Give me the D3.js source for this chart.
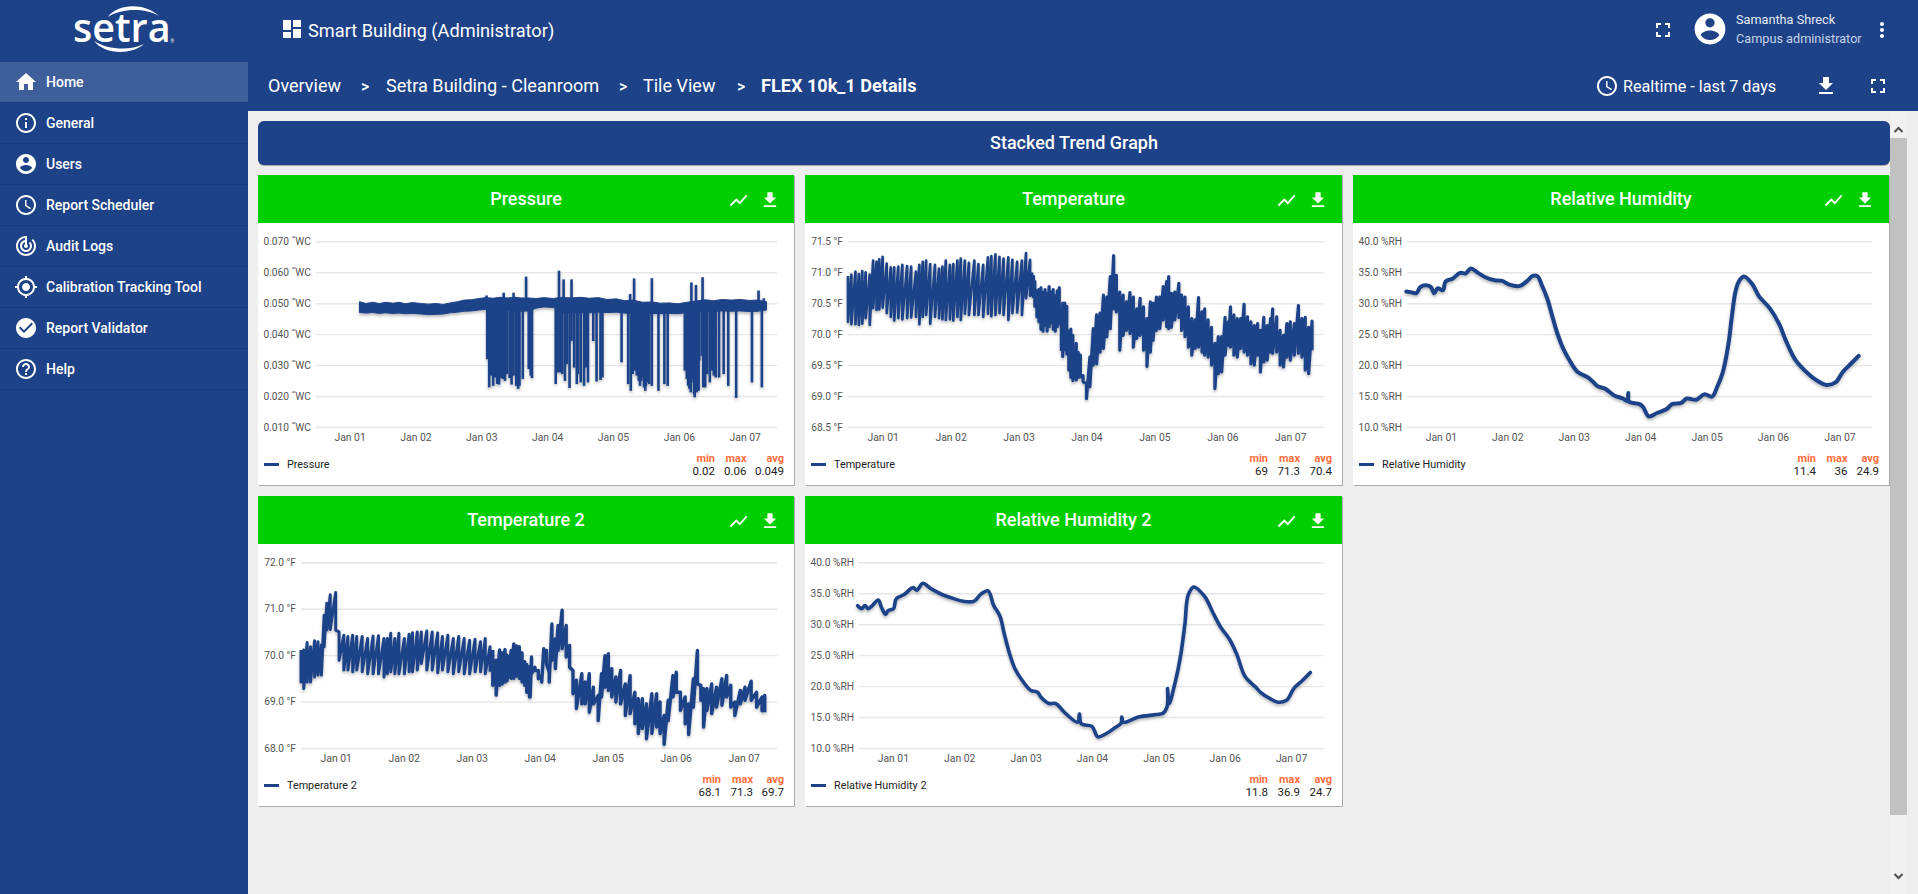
<![CDATA[<!DOCTYPE html>
<html><head><meta charset="utf-8">
<script src="https://cdn.jsdelivr.net/npm/d3@7/dist/d3.min.js"></script>
<style>
html,body{margin:0;padding:0;width:1918px;height:894px;overflow:hidden;background:#eee;font-family:Roboto,sans-serif}
svg{display:block}
text{font-family:Roboto,sans-serif}
.tick text{font-family:Roboto,sans-serif}
</style></head><body><svg id="page" width="1918" height="894"></svg>
<script>
// ---------- DATA (day-of-January, value) ----------
const dayTicks=[1,2,3,4,5,6,7];
const windowDays=[0.49,7.49];
const pressureTicks=[0.01,0.02,0.03,0.04,0.05,0.06,0.07];
const temperatureTicks=[68.5,69,69.5,70,70.5,71,71.5];
const temperature2Ticks=[68,69,70,71,72];
const humidityTicks=[10,15,20,25,30,35,40];

const pressureBandDays=[1.15,1.25,1.35,1.45,1.55,1.66,1.75,1.85,1.95,2.09,2.2,2.31,2.42,2.53,2.64,2.74,2.85,2.96,3.07,3.18,3.28,3.4,3.5,3.6,3.72,3.83,3.95,4.10,4.2,4.37,4.5,4.64,4.78,4.91,5.05,5.18,5.3,5.45,5.6,5.72,5.85,5.99,6.12,6.26,6.4,6.53,6.66,6.80,6.93,7.07,7.2,7.33];
const pressureBandHigh=[.0505,.0499,.0503,.0499,.0503,.0500,.0503,.0498,.0502,.0499,.0497,.0499,.0496,.0501,.0505,.0510,.0511,.0515,.0518,.0516,.0519,.0517,.0519,.0517,.0517,.0515,.0518,.0515,.0519,.0517,.0519,.0516,.0518,.0512,.0514,.0508,.0510,.0503,.0504,.0500,.0501,.0498,.0503,.0507,.0511,.0508,.0512,.0510,.0512,.0509,.0510,.0505];
const pressureBandLow=[.0470,.0468,.0470,.0467,.0469,.0467,.0468,.0466,.0467,.0465,.0463,.0464,.0465,.0469,.0471,.0474,.0475,.0478,.0480,.0478,.0480,.0478,.0476,.0474,.0475,.0484,.0488,.0486,.0470,.0468,.0470,.0469,.0471,.0470,.0471,.0468,.0467,.0466,.0467,.0466,.0467,.0466,.0470,.0473,.0475,.0474,.0475,.0474,.0475,.0473,.0474,.0478];
const pressureDipDays=[3.09,3.12,3.15,3.18,3.21,3.24,3.27,3.30,3.33,3.36,3.39,3.43,3.46,3.49,3.53,3.56,3.58,3.63,3.72,3.75,3.77,4.13,4.16,4.20,4.23,4.27,4.30,4.34,4.37,4.41,4.45,4.47,4.51,4.56,4.59,4.62,4.70,4.75,4.81,4.84,5.13,5.23,5.27,5.30,5.33,5.36,5.39,5.41,5.43,5.45,5.47,5.49,5.50,5.52,5.55,5.59,5.69,5.78,5.83,6.09,6.12,6.14,6.16,6.18,6.19,6.21,6.23,6.24,6.27,6.30,6.31,6.35,6.37,6.40,6.43,6.47,6.50,6.53,6.56,6.61,6.68,6.75,6.87,7.11,7.26];
const pressureDipLow=[.0319,.0228,.0266,.0233,.0260,.0239,.0237,.0258,.0255,.0249,.0271,.0258,.0237,.0266,.0233,.0223,.0233,.0255,.0287,.0266,.0258,.0239,.0276,.0276,.0271,.0249,.0303,.0226,.0378,.0292,.0239,.0271,.0244,.0233,.0292,.0244,.0378,.0247,.0252,.0260,.0309,.0239,.0217,.0271,.0282,.0266,.0249,.0233,.0249,.0260,.0228,.0217,.0233,.0244,.0239,.0233,.0217,.0239,.0233,.0282,.0255,.0233,.0223,.0212,.0244,.0255,.0206,.0196,.0212,.0217,.0314,.0330,.0228,.0228,.0271,.0244,.0282,.0266,.0260,.0260,.0271,.0233,.0194,.0244,.0228];
const pressureSpikeDays=[3.08,3.34,3.49,3.68,4.18,4.25,4.37,5.26,5.32,5.59,6.19,6.26,6.36,7.21,7.29];
const pressureSpikeHigh=[.0525,.0534,.0534,.0586,.0605,.0577,.0577,.0530,.0580,.0581,.0567,.0559,.0584,.0541,.0516];

const temperatureTeethDays=[.49,.54,.60,.65,.70,.75,.81,.86,.91,.95,1.0,1.06,1.12,1.17,1.23,1.29,1.36,1.42,1.49,1.54,1.59,1.64,1.70,1.77,1.83,1.88,1.93,1.99,2.04,2.10,2.15,2.21,2.27,2.35,2.41,2.48,2.55,2.60,2.66,2.72,2.78,2.85,2.91,2.98,3.05,3.11,3.17,3.20];
const temperatureTeethHigh=[70.94,70.96,71.01,70.97,71.02,71.00,70.96,71.19,71.17,71.21,71.25,71.14,71.08,71.08,71.09,71.12,71.10,71.09,71.01,71.12,71.17,71.19,71.13,71.12,71.06,71.09,71.19,71.12,71.13,71.19,71.22,71.19,71.15,71.19,71.13,71.12,71.24,71.26,71.29,71.25,71.22,71.24,71.20,71.17,71.19,71.31,71.20,70.98];
const temperatureTeethLow=[70.20,70.16,70.16,70.15,70.17,70.26,70.15,70.42,70.39,70.40,70.43,70.34,70.28,70.22,70.26,70.24,70.26,70.27,70.28,70.16,70.28,70.31,70.17,70.28,70.26,70.24,70.23,70.24,70.22,70.28,70.23,70.33,70.31,70.31,70.31,70.28,70.33,70.29,70.31,70.34,70.31,70.23,70.34,70.35,70.31,70.58,70.62,70.61];
const temperatureBandDays=[3.22,3.24,3.27,3.30,3.33,3.36,3.39,3.42,3.45,3.48,3.51,3.54,3.57,3.60,3.63,3.65,3.68,3.71,3.74,3.77,3.80,3.83,3.85,3.88,3.91,3.95,4.00,4.05,4.10,4.15,4.20,4.25,4.30,4.35,4.40,4.44,4.49,4.54,4.59,4.64,4.69,4.74,4.79,4.84,4.89,4.94,4.98,5.03,5.08,5.13,5.18,5.21,5.25,5.30,5.36,5.40,5.45,5.50,5.55,5.60,5.65,5.70,5.74,5.79,5.84,5.89,5.94,5.99,6.04,6.09,6.12,6.17,6.22,6.27,6.32,6.37,6.42,6.47,6.52,6.56,6.61,6.66,6.71,6.74,6.80,6.85,6.90,6.95,7.00,7.06,7.12,7.17,7.22,7.27,7.32];
const temperatureBandHigh=[70.95,70.85,70.70,70.72,70.75,70.67,70.72,70.65,70.77,70.68,70.72,70.62,70.70,70.75,70.20,70.50,70.50,70.45,70.05,70.08,69.98,69.62,69.85,69.70,69.66,69.33,69.20,69.63,70.09,70.31,70.34,70.63,70.60,70.93,71.27,70.95,70.68,70.63,70.52,70.67,70.60,70.41,70.58,70.44,70.25,70.52,70.50,70.60,70.60,70.77,70.85,70.93,70.66,70.68,70.82,70.63,70.60,70.44,70.25,70.23,70.59,70.36,70.41,70.23,70.11,69.85,69.96,69.96,70.27,70.20,70.44,70.31,70.25,70.25,70.48,70.28,70.20,70.14,70.17,70.06,70.27,70.14,70.25,70.41,70.28,70.06,69.98,70.17,70.20,70.17,70.46,70.25,70.27,70.11,70.21];
const temperatureBandLow=[70.60,70.45,70.28,70.20,70.08,70.05,70.15,70.05,70.12,70.18,70.08,70.05,70.12,70.17,69.75,69.64,69.75,69.68,69.42,69.30,69.25,69.32,69.26,69.30,69.31,69.23,68.96,69.15,69.50,69.52,69.71,69.77,69.96,70.09,70.41,70.36,69.74,69.98,70.06,70.01,69.79,69.93,69.98,69.74,69.48,69.71,69.90,70.06,70.09,70.23,70.12,70.09,70.11,70.23,70.27,70.06,69.96,69.79,69.66,69.77,69.79,69.71,69.66,69.63,69.50,69.12,69.36,69.39,69.66,69.82,69.79,69.66,69.63,69.77,69.71,69.66,69.52,69.50,69.66,69.39,69.55,69.58,69.71,69.69,69.71,69.50,69.47,69.63,69.58,69.66,69.69,69.63,69.42,69.36,69.74];

const temperature2TeethDays=[.49,.53,.58,.63,.69,.74,.79,.83,.87,.92,1.0,1.05,1.12,1.18,1.25,1.31,1.39,1.47,1.55,1.63,1.71,1.76,1.81,1.87,1.93,2.01,2.08,2.13,2.20,2.26,2.34,2.42,2.50,2.57,2.65,2.73,2.81,2.89,2.97,3.05,3.13,3.20,3.27];
const temperature2TeethHigh=[70.11,70.11,70.27,70.18,70.31,70.29,70.22,70.86,71.12,71.30,71.35,70.50,70.43,70.40,70.43,70.40,70.40,70.36,70.41,70.42,70.36,70.36,70.47,70.36,70.47,70.36,70.45,70.48,70.50,70.50,70.52,70.50,70.48,70.40,70.43,70.36,70.40,70.36,70.32,70.34,70.29,70.36,70.18];
const temperature2TeethLow=[69.42,69.28,69.42,69.42,69.53,69.57,69.57,70.18,70.54,70.55,70.54,69.89,69.68,69.68,69.64,69.68,69.64,69.60,69.60,69.60,69.53,69.60,69.64,69.60,69.60,69.60,69.64,69.64,69.68,69.82,69.68,69.68,69.62,69.68,69.64,69.60,69.64,69.60,69.60,69.64,69.64,69.60,69.64];
const temperature2BandDays=[3.31,3.36,3.41,3.45,3.49,3.52,3.55,3.58,3.62,3.66,3.70,3.74,3.78,3.81,3.85,3.86,3.88,3.93,3.98,4.03,4.06,4.10,4.14,4.18,4.23,4.27,4.33,4.39,4.44,4.49,4.54,4.62,4.67,4.73,4.79,4.86,4.91,4.96,5.01,5.06,5.12,5.19,5.26,5.33,5.40,5.45,5.51,5.57,5.65,5.72,5.77,5.83,5.89,5.96,6.01,6.07,6.14,6.19,6.26,6.32,6.37,6.41,6.46,6.53,6.60,6.68,6.75,6.81,6.87,6.95,7.02,7.11,7.19,7.27,7.31];
const temperature2BandHigh=[70.11,69.89,70.11,70.05,70.12,70.00,69.96,70.10,70.24,70.20,70.18,70.05,69.86,69.80,69.75,69.67,69.96,69.74,69.67,69.56,70.14,70.10,69.63,70.67,70.35,70.64,70.97,70.64,70.21,69.67,69.46,69.60,69.42,69.60,69.31,69.13,69.60,69.99,70.03,69.71,69.53,69.67,69.38,69.56,69.20,69.06,69.06,68.95,69.17,69.17,68.99,68.70,69.03,69.56,69.63,69.20,69.10,68.95,69.49,70.10,69.35,69.28,69.28,69.38,69.31,69.49,69.56,69.35,68.99,69.24,69.31,69.44,69.20,69.10,69.13];
const temperature2BandLow=[69.35,69.14,69.35,69.38,69.42,69.45,69.53,69.50,69.50,69.55,69.50,69.42,69.35,69.20,69.10,69.10,69.60,69.67,69.49,69.42,69.89,69.81,69.42,69.89,69.71,70.10,70.14,69.96,69.74,69.17,68.85,68.95,68.95,68.77,68.95,68.59,69.10,69.31,69.24,69.10,68.99,68.95,68.70,68.74,68.52,68.31,68.42,68.20,68.31,68.45,68.31,68.08,68.59,69.10,69.20,68.81,68.52,68.29,68.88,69.38,69.03,68.45,68.81,68.74,68.88,68.92,69.10,68.88,68.70,68.95,69.03,69.03,68.88,68.80,68.77];

const humidityDays=[.48,.58,.63,.69,.77,.85,.90,.95,1.03,1.07,1.18,1.29,1.37,1.45,1.56,1.67,1.81,1.92,2.03,2.19,2.30,2.38,2.45,2.52,2.60,2.68,2.76,2.84,2.93,3.06,3.23,3.36,3.47,3.61,3.74,3.81,3.82,3.83,3.99,4.04,4.13,4.26,4.40,4.48,4.62,4.70,4.84,4.97,5.08,5.16,5.24,5.33,5.38,5.44,5.49,5.56,5.68,5.79,5.95,6.09,6.20,6.34,6.53,6.66,6.80,6.94,7.05,7.18,7.29];
const humidityValues=[31.9,31.7,31.6,32.6,32.9,32.6,31.6,32.4,32.1,33.5,34.0,34.9,34.8,35.6,34.9,34.2,33.7,33.6,33.0,32.8,33.6,34.4,34.4,32.9,30.8,27.8,24.9,22.7,20.9,18.9,17.9,16.6,16.2,15.1,14.6,14.2,15.5,14.1,13.7,13.3,11.7,12.3,12.9,13.7,13.9,14.6,14.4,15.3,14.9,16.5,18.7,23.5,27.8,32.1,33.6,34.3,33.2,31.1,29.2,26.7,23.8,20.8,18.6,17.5,16.8,17.2,18.9,20.3,21.5];
const humidity2Days=[.47,.53,.58,.63,.69,.78,.83,.89,.93,1.01,1.05,1.17,1.31,1.36,1.45,1.58,1.74,1.90,2.06,2.22,2.33,2.43,2.52,2.61,2.68,2.76,2.84,2.95,3.08,3.18,3.24,3.35,3.45,3.59,3.79,3.81,3.84,4.0,4.09,4.21,4.35,4.44,4.45,4.47,4.70,4.97,5.07,5.13,5.14,5.16,5.26,5.34,5.40,5.46,5.53,5.69,5.83,5.94,6.07,6.18,6.31,6.47,6.54,6.68,6.80,6.93,7.04,7.17,7.29];
const humidity2Values=[33.0,32.5,33.0,32.5,33.0,33.9,32.7,31.6,32.2,32.5,34.1,34.8,35.9,35.5,36.6,35.7,34.8,34.2,33.7,33.7,34.9,35.4,33.0,31.4,28.4,25.2,22.8,20.9,19.3,19.0,18.1,17.2,17.2,15.7,14.2,15.5,13.9,13.5,11.8,12.3,13.3,14.0,15.0,14.2,15.0,15.4,15.6,16.6,19.6,17.2,20.9,25.2,30.0,35.0,36.0,34.6,31.7,29.5,27.6,25.2,21.5,19.8,19.0,18.0,17.4,17.7,19.6,20.9,22.2];

const NAVY="#1e4288",GREEN="#00ce00",ORANGE="#ff6e40";
const menuLabels=["Home","General","Users","Report Scheduler","Audit Logs","Calibration Tracking Tool","Report Validator","Help"];
const ICON={
 home:"M10 20v-6h4v6h5v-8h3L12 3 2 12h3v8z",
 info:"M11 7h2v2h-2zm0 4h2v6h-2zm1-9C6.48 2 2 6.48 2 12s4.48 10 10 10 10-4.48 10-10S17.52 2 12 2zm0 18c-4.41 0-8-3.59-8-8s3.59-8 8-8 8 3.59 8 8-3.59 8-8 8z",
 user:"M12 2C6.48 2 2 6.48 2 12s4.48 10 10 10 10-4.48 10-10S17.52 2 12 2zm0 3c1.66 0 3 1.34 3 3s-1.34 3-3 3-3-1.34-3-3 1.34-3 3-3zm0 14.2c-2.5 0-4.71-1.28-6-3.22.03-1.99 4-3.08 6-3.08 1.99 0 5.97 1.09 6 3.08-1.29 1.94-3.5 3.22-6 3.22z",
 clock:"M11.99 2C6.47 2 2 6.48 2 12s4.47 10 9.99 10C17.52 22 22 17.52 22 12S17.52 2 11.99 2zM12 20c-4.42 0-8-3.58-8-8s3.58-8 8-8 8 3.58 8 8-3.58 8-8 8zm.5-13H11v6l5.25 3.15.75-1.23-4.5-2.67z",
 track:"M19.07 4.93l-1.41 1.41C19.1 7.79 20 9.79 20 12c0 4.42-3.58 8-8 8s-8-3.58-8-8c0-4.08 3.05-7.44 7-7.93v2.02C8.16 6.57 6 9.03 6 12c0 3.31 2.69 6 6 6s6-2.69 6-6c0-1.66-.67-3.16-1.76-4.24l-1.41 1.41C15.55 9.9 16 10.9 16 12c0 2.21-1.79 4-4 4s-4-1.79-4-4c0-1.86 1.28-3.41 3-3.86v2.14c-.6.35-1 .98-1 1.72 0 1.1.9 2 2 2s2-.9 2-2c0-.74-.4-1.38-1-1.72V2h-1C6.48 2 2 6.48 2 12s4.48 10 10 10 10-4.48 10-10c0-2.76-1.12-5.26-2.93-7.07z",
 gps:"M12 8c-2.21 0-4 1.79-4 4s1.79 4 4 4 4-1.79 4-4-1.79-4-4-4zm8.94 3c-.46-4.17-3.77-7.48-7.94-7.94V1h-2v2.06C6.83 3.52 3.52 6.83 3.06 11H1v2h2.06c.46 4.17 3.77 7.48 7.94 7.94V23h2v-2.06c4.17-.46 7.48-3.77 7.94-7.94H23v-2h-2.06zM12 19c-3.87 0-7-3.13-7-7s3.13-7 7-7 7 3.13 7 7-3.13 7-7 7z",
 check:"M12 2C6.48 2 2 6.48 2 12s4.48 10 10 10 10-4.48 10-10S17.52 2 12 2zm-2 15l-5-5 1.41-1.41L10 14.17l7.59-7.59L19 8l-9 9z",
 help:"M11 18h2v-2h-2v2zm1-16C6.48 2 2 6.48 2 12s4.48 10 10 10 10-4.48 10-10S17.52 2 12 2zm0 18c-4.41 0-8-3.59-8-8s3.59-8 8-8 8 3.59 8 8-3.59 8-8 8zm0-14c-2.21 0-4 1.79-4 4h2c0-1.1.9-2 2-2s2 .9 2 2c0 2-3 1.75-3 5h2c0-2.25 3-2.5 3-5 0-2.21-1.79-4-4-4z",
 down:"M19 9h-4V3H9v6H5l7 7 7-7zM5 18v2h14v-2H5z",
 full:"M7 14H5v5h5v-2H7v-3zm-2-4h2V7h3V5H5v5zm12 7h-3v2h5v-5h-2v3zM14 5v2h3v3h2V5h-5z",
 chart:"M3.5 18.49l6-6.01 4 4L22 6.92l-1.41-1.41-7.09 7.97-4-4L2 16.99z",
 more:"M12 8c1.1 0 2-.9 2-2s-.9-2-2-2-2 .9-2 2 .9 2 2 2zm0 2c-1.1 0-2 .9-2 2s.9 2 2 2 2-.9 2-2-.9-2-2-2zm0 6c-1.1 0-2 .9-2 2s.9 2 2 2 2-.9 2-2-.9-2-2-2z"
};
const menuIcons=["home","info","user","clock","track","gps","check","help"];

const svg=d3.select("#page");
const defs=svg.append("defs");
const shadowFilter=defs.append("filter").attr("id","lineShadow").attr("x","-5%").attr("y","-5%").attr("width","110%").attr("height","115%");
shadowFilter.append("feDropShadow").attr("dx",0).attr("dy",2).attr("stdDeviation",1.4).attr("flood-color","#000").attr("flood-opacity",.28);

function rect(g,x,y,w,h,fill){return g.append("rect").attr("x",x).attr("y",y).attr("width",w).attr("height",h).attr("fill",fill);}
function label(g,x,y,t,size,opt={}){return g.append("text").attr("x",x).attr("y",y).attr("dy",".35em").attr("font-size",size)
  .attr("fill",opt.fill||"#fff").attr("font-weight",opt.weight||400).attr("text-anchor",opt.anchor||"start").text(t);}
function icon(g,name,cx,cy,size,fill="#fff"){const s=size/24;g.append("path").attr("d",ICON[name]).attr("fill",fill)
  .attr("transform",`translate(${cx-size/2},${cy-size/2}) scale(${s})`);}

// background
rect(svg,0,0,1918,894,"#eeeeee");
rect(svg,248,0,1670,111,NAVY);
rect(svg,0,0,248,894,NAVY);

// logo
const logo=svg.append("g");
logo.append("text").attr("x",73).attr("y",42).attr("font-size",39.5).attr("fill","#fff").attr("font-weight",600)
  .style("font-family","'Open Sans',sans-serif").text("setra");
logo.append("path").attr("d","M108 17 C118 3 145 3 159 16 C145 8 122 8 108 17Z").attr("fill","#fff");
logo.append("path").attr("d","M94 41 C104 54 130 56 144 44 C130 51 108 50 94 41Z").attr("fill","#fff");
label(logo,170.5,41,"®",4.5);

// sidebar
const side=svg.append("g");
rect(side,0,62,248,40,"#3f5f9b");
menuLabels.forEach((t,i)=>{
  const cy=82+i*41;
  if(i>0) rect(side,0,cy+20,248,1,"#193a7b");
  rect(side,0,102,248,1,"#193a7b");
  icon(side,menuIcons[i],26,cy,24);
  label(side,46,cy,t,14,{weight:500});
});

// top bar
const topBar=svg.append("g");
[[283,20,8,10],[293,20,8,7],[283,32,8,6],[293,29,8,9]].forEach(r=>rect(topBar,r[0],r[1],r[2],r[3],"#fff"));
label(topBar,308,31,"Smart Building (Administrator)",18.2);
icon(topBar,"full",1663,30,24);
icon(topBar,"user",1710,29,37);
label(topBar,1736,19.5,"Samantha Shreck",12.7,{fill:"#e3e9f4"});
label(topBar,1736,39,"Campus administrator",12.7,{fill:"#c6d2e8"});
icon(topBar,"more",1882,30,24);
label(topBar,268,86,"Overview",18);
label(topBar,361,86,">",16,{weight:500});
label(topBar,386,86,"Setra Building - Cleanroom",18.1);
label(topBar,619,86,">",16,{weight:500});
label(topBar,643,86,"Tile View",18);
label(topBar,737,86,">",16,{weight:500});
label(topBar,761,86,"FLEX 10k_1 Details",18.1,{weight:700});
icon(topBar,"clock",1607,86,24);
label(topBar,1623,86.5,"Realtime - last 7 days",16.2);
icon(topBar,"down",1826,86,24);
icon(topBar,"full",1878,86,24);

// stacked title
rect(svg,258,122,1632,44,"#000").attr("rx",6).attr("opacity",.28);
rect(svg,258,121,1632,44,NAVY).attr("rx",6);
label(svg,1074,142.5,"Stacked Trend Graph",18,{anchor:"middle",weight:500});

// scrollbar
rect(svg,1890,111,28,783,"#f1f1f1");
rect(svg,1890,138,17,677,"#c1c1c1");
rect(svg,1907,111,11,783,"#eeeeee");
svg.append("path").attr("d","M1894.5 132 l4-4 4 4").attr("fill","none").attr("stroke","#505050").attr("stroke-width",2);
svg.append("path").attr("d","M1894.5 874 l4 4 4-4").attr("fill","none").attr("stroke","#505050").attr("stroke-width",2);

// charts
const toDate=d=>new Date(Date.UTC(2021,0,1)+(d-1)*864e5);
const x0=toDate(windowDays[0]),x1=toDate(windowDays[1]);

function card(o){
  const g=svg.append("g");
  rect(g,o.x+1,o.top+1,o.w,310,"#ababab");
  rect(g,o.x,o.top,o.w,310,"#fff");
  rect(g,o.x,o.top,o.w,48,GREEN);
  label(g,o.x+o.w/2,o.top+24,o.title,18,{anchor:"middle",weight:500});
  icon(g,"chart",o.x+o.w-55.5,o.top+25.5,21);
  icon(g,"down",o.x+o.w-24,o.top+25,21);
  const yB=o.top+252,yT=o.top+66.3;
  const xS=d3.scaleUtc().domain([x0,x1]).range([o.left,o.right]);
  const yS=d3.scaleLinear().domain(o.domain).range([yB,yT]);
  const ya=d3.axisLeft(yS).tickValues(o.ticks).tickSize(-(o.right-o.left)).tickPadding(5).tickFormat(o.fmt);
  const yg=g.append("g").attr("transform",`translate(${o.left},0)`).call(ya);
  yg.select(".domain").remove();
  yg.selectAll("line").attr("stroke","#e6e6e6").attr("stroke-width",1.4);
  yg.selectAll("text").attr("fill","#555").attr("font-size",10.2);
  const xa=d3.axisBottom(xS).tickValues(dayTicks.map(toDate)).tickSize(0).tickPadding(7).tickFormat(d3.utcFormat("%b %d"));
  const xg=g.append("g").attr("transform",`translate(0,${yB})`).call(xa);
  xg.select(".domain").remove();
  xg.selectAll("text").attr("fill","#555").attr("font-size",10.4);
  const m=g.append("g").attr("filter","url(#lineShadow)");
  o.draw(m,xS,yS);
  // legend
  rect(g,o.x+6,yB+36,15,3,NAVY);
  label(g,o.x+29,yB+37.5,o.title,10.8,{fill:"#222"});
  o.stats.forEach((s,i)=>{
    const xr=o.statX[i];
    label(g,xr,yB+31,s[0],11,{fill:ORANGE,weight:700,anchor:"end"});
    label(g,xr,yB+44,s[1],11.5,{fill:"#222",anchor:"end"});
  });
}

function drawLine(m,xS,yS,days,vals,w){
  const line=d3.line().curve(d3.curveCatmullRom.alpha(.7)).x(d=>xS(toDate(d[0]))).y(d=>yS(d[1]));
  m.append("path").attr("d",line(d3.zip(days,vals))).attr("fill","none").attr("stroke",NAVY)
   .attr("stroke-width",w).attr("stroke-linejoin","round").attr("stroke-linecap","round");
}
function drawBand(m,xS,yS,days,hi,lo){
  const area=d3.area().x(d=>xS(toDate(d[0]))).y0(d=>yS(d[2])).y1(d=>yS(d[1]));
  m.append("path").attr("d",area(d3.zip(days,hi,lo))).attr("fill",NAVY).attr("stroke",NAVY)
   .attr("stroke-width",1).attr("stroke-linejoin","round");
}
function drawTeeth(m,xS,yS,days,hi,lo,w){
  const pts=d3.zip(days,hi,lo).flatMap(d=>[[d[0],d[1]],[d[0],d[2]]]);
  const line=d3.line().x(d=>xS(toDate(d[0]))).y(d=>yS(d[1]));
  m.append("path").attr("d",line(pts)).attr("fill","none").attr("stroke",NAVY).attr("stroke-width",w).attr("stroke-linejoin","round");
}
function drawSticks(m,xS,yS,days,vals,baseVal,w){
  m.append("g").selectAll("line").data(d3.zip(days,vals)).join("line")
   .attr("x1",d=>xS(toDate(d[0]))).attr("x2",d=>xS(toDate(d[0])))
   .attr("y1",yS(baseVal)).attr("y2",d=>yS(d[1]))
   .attr("stroke",NAVY).attr("stroke-width",w);
}
const rowTop=[175,496];
const fmtP=d=>d3.format(".3f")(d)+' ˝WC', fmtT=d=>d3.format(".1f")(d)+" °F", fmtH=d=>d3.format(".1f")(d)+" %RH";

card({title:"Pressure",x:258,top:rowTop[0],w:536,left:316,right:777,domain:[.01,.07],ticks:pressureTicks,fmt:fmtP,
  statX:[715,746.5,784],stats:[["min","0.02"],["max","0.06"],["avg","0.049"]],
  draw:(m,x,y)=>{drawSticks(m,x,y,pressureDipDays,pressureDipLow,.049,2.6);
    drawSticks(m,x,y,pressureSpikeDays,pressureSpikeHigh,.049,2.6);
    drawBand(m,x,y,pressureBandDays,pressureBandHigh,pressureBandLow);}});
card({title:"Temperature",x:805,top:rowTop[0],w:537,left:848,right:1323.6,domain:[68.5,71.5],ticks:temperatureTicks,fmt:fmtT,
  statX:[1268,1300,1332],stats:[["min","69"],["max","71.3"],["avg","70.4"]],
  draw:(m,x,y)=>{drawTeeth(m,x,y,temperatureTeethDays,temperatureTeethHigh,temperatureTeethLow,2.7);
    drawTeeth(m,x,y,temperatureBandDays,temperatureBandHigh,temperatureBandLow,3.2);}});
card({title:"Relative Humidity",x:1353,top:rowTop[0],w:536,left:1407,right:1872,domain:[10,40],ticks:humidityTicks,fmt:fmtH,
  statX:[1816,1847.5,1879],stats:[["min","11.4"],["max","36"],["avg","24.9"]],
  draw:(m,x,y)=>drawLine(m,x,y,humidityDays,humidityValues,4)});
card({title:"Temperature 2",x:258,top:rowTop[1],w:536,left:301,right:777,domain:[68,72],ticks:temperature2Ticks,fmt:fmtT,
  statX:[721,753,784],stats:[["min","68.1"],["max","71.3"],["avg","69.7"]],
  draw:(m,x,y)=>{drawTeeth(m,x,y,temperature2TeethDays,temperature2TeethHigh,temperature2TeethLow,3);
    drawTeeth(m,x,y,temperature2BandDays,temperature2BandHigh,temperature2BandLow,3.4);}});
card({title:"Relative Humidity 2",x:805,top:rowTop[1],w:537,left:859,right:1323.6,domain:[10,40],ticks:humidityTicks,fmt:fmtH,
  statX:[1268,1300,1332],stats:[["min","11.8"],["max","36.9"],["avg","24.7"]],
  draw:(m,x,y)=>drawLine(m,x,y,humidity2Days,humidity2Values,3.6)});
</script></body></html>]]>
